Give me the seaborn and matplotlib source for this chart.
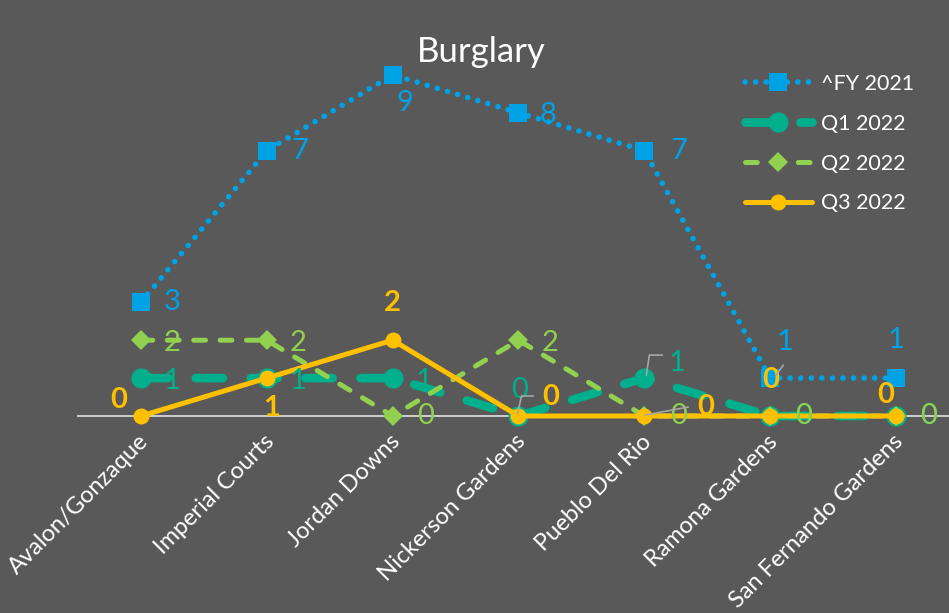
import matplotlib
matplotlib.use("Agg")
import matplotlib.pyplot as plt
import matplotlib.transforms as mtransforms
from matplotlib.lines import Line2D
import seaborn as sns
import pandas as pd

sites = ["Avalon/Gonzaque", "Imperial Courts", "Jordan Downs", "Nickerson Gardens",
         "Pueblo Del Rio", "Ramona Gardens", "San Fernando Gardens"]
fy2021 = [3, 7, 9, 8, 7, 1, 1]
q1_2022 = [1, 1, 1, 0, 1, 0, 0]
q2_2022 = [2, 2, 0, 2, 0, 0, 0]
q3_2022 = [0, 1, 2, 0, 0, 0, 0]
series_names = ["^FY 2021", "Q1 2022", "Q2 2022", "Q3 2022"]

BG = "#595959"
BLUE = "#00A2E6"
TEAL = "#00B08C"
GREEN = "#92D050"
GOLD = "#FFC000"
LEADER = "#A6A6A6"

sns.set_theme(style="white")
plt.rcParams["font.family"] = ["Lato", "DejaVu Sans"]
plt.rcParams["lines.scale_dashes"] = False

df = pd.DataFrame({
    "site": sites * 4,
    "count": fy2021 + q1_2022 + q2_2022 + q3_2022,
    "series": sum([[n] * len(sites) for n in series_names], []),
})

fig = plt.figure(figsize=(9.49, 6.13), dpi=100, facecolor=BG)
ax = fig.add_axes([78 / 949, 197 / 613, 881 / 949, 379 / 613])
ax.set_facecolor(BG)

styles = {
    "^FY 2021": dict(color=BLUE, lw=4.0, marker="s", ms=12.5, dashes=(0.1, 7.5)),
    "Q1 2022": dict(color=TEAL, lw=6.2, marker="o", ms=14.5, dashes=(19.5, 20.0)),
    "Q2 2022": dict(color=GREEN, lw=3.6, marker="D", ms=10.5, dashes=(8.5, 10.5)),
    "Q3 2022": dict(color=GOLD, lw=3.6, marker="o", ms=11.5, dashes=None),
}

for name in series_names:
    st = styles[name]
    sub = df[df["series"] == name]
    sns.lineplot(data=sub, x="site", y="count", ax=ax, sort=False, estimator=None,
                 color=st["color"], linewidth=st["lw"], marker=st["marker"],
                 markersize=st["ms"], markeredgewidth=0, label=name)
    line = ax.lines[-1]
    line.set_clip_on(False)
    line.set_solid_capstyle("round")
    line.set_dash_capstyle("round")
    if st["dashes"] is not None:
        line.set_dashes(st["dashes"])

ax.set_xlim(-0.5, 6.5)
ax.set_ylim(0, 10)
ax.set_xlabel("")
ax.set_ylabel("")
ax.set_yticks([])
for side in ["top", "right", "left"]:
    ax.spines[side].set_visible(False)
ax.spines["bottom"].set_color("#D9D9D9")
ax.spines["bottom"].set_linewidth(1.3)
ax.spines["bottom"].set_zorder(0.5)
ax.set_xticks(range(len(sites)))
ax.set_xticklabels(sites, rotation=45, ha="right", va="center",
                   rotation_mode="anchor", color="white", fontsize=17)
ax.tick_params(axis="x", length=0, pad=16)
shift = mtransforms.ScaledTranslation(4 / 100, 0, fig.dpi_scale_trans)
for lbl in ax.get_xticklabels():
    lbl.set_transform(lbl.get_transform() + shift)

# data labels: (series values, colour, weight, offsets in pixels per point)
label_specs = [
    (fy2021, BLUE, "normal",
     [(31, 0), (33, 0), (12, -28), (30, -2), (34, 0), (15, 36), (0, 38)]),
    (q1_2022, TEAL, "normal",
     [(31, -3), (31, -3), (31, -3), (1, 26), (33, 15), (33, 0), (32, 0)]),
    (q2_2022, GREEN, "normal",
     [(31, -3), (31, -3), (33, 0), (32, -3), (34, 0), (33, 0), (32, 0)]),
    (q3_2022, GOLD, "bold",
     [(-22, 16), (5, -30), (0, 37), (32, 19), (61, 9), (0, 36), (-10, 21)]),
]
for values, color, weight, offsets in label_specs:
    for i, (v, (dx, dy)) in enumerate(zip(values, offsets)):
        ax.annotate(str(v), xy=(i, v), xytext=(dx, dy), textcoords="offset pixels",
                    ha="center", va="center", color=color, fontsize=21,
                    fontweight=weight, zorder=10, annotation_clip=False)

# leader lines from offset labels back to their points
fig.canvas.draw()
def leader(i, v, pts):
    x0, y0 = ax.transData.transform((i, v))
    xs = [x0 + p[0] for p in pts]
    ys = [y0 + p[1] for p in pts]
    fig.add_artist(Line2D(xs, ys, transform=None, color=LEADER, lw=1.2, zorder=9))

leader(4, q1_2022[4], [(2, 3), (5, 23), (18, 23)])
leader(3, q1_2022[3], [(-1, 2), (3, 20), (15, 20)])
leader(5, fy2021[5], [(6, 3), (13, 13)])
leader(4, q2_2022[4], [(1, 1), (44, 9)])

ax.legend(loc="upper left", bbox_to_anchor=(745 / 949, 1 - 74 / 613),
          bbox_transform=fig.transFigure, frameon=False, fontsize=15.5,
          labelcolor="white", handlelength=3.1, handletextpad=0.45,
          labelspacing=0.92, borderpad=0, borderaxespad=0, markerscale=1.0)

fig.text(481 / 949, 1 - 52 / 613, "Burglary", ha="center", va="center",
         color="white", fontsize=25)

fig.savefig("out.png", dpi=100, facecolor=BG)
